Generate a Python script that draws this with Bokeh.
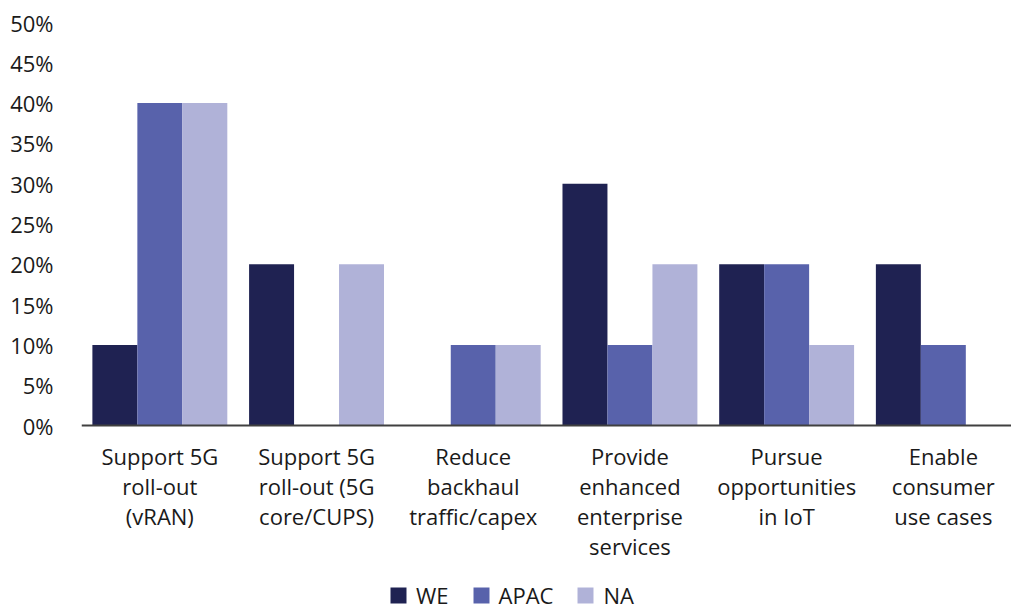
from bokeh.plotting import figure
from bokeh.models import ColumnDataSource, Range1d, FixedTicker, Legend, LegendItem
from bokeh.embed import file_html
from bokeh.resources import INLINE

categories = [
    "Support 5G\nroll-out\n(vRAN)",
    "Support 5G\nroll-out (5G\ncore/CUPS)",
    "Reduce\nbackhaul\ntraffic/capex",
    "Provide\nenhanced\nenterprise\nservices",
    "Pursue\nopportunities\nin IoT",
    "Enable\nconsumer\nuse cases",
]
series_names = ["WE", "APAC", "NA"]
we = [10, 20, 0, 30, 20, 20]
apac = [40, 0, 10, 10, 20, 10]
na = [40, 20, 10, 20, 10, 0]
y_ticks = [0, 5, 10, 15, 20, 25, 30, 35, 40, 45, 50]

colors = ["#1f2252", "#5862ab", "#b0b2d8"]
FONT = "Open Sans"
FS = "22px"

# frame spans from 22px to the bottom of the canvas; 0% sits 185px above the bottom
y_bottom = -185 * 50 / 403

p = figure(width=1011, height=610, output_backend="svg", toolbar_location=None,
           x_range=Range1d(0, 5.935), y_range=Range1d(y_bottom, 50),
           min_border_left=81, min_border_right=0, min_border_top=22, min_border_bottom=0)
p.outline_line_color = None
p.xgrid.grid_line_color = None
p.ygrid.grid_line_color = None

xs = [i + 0.5 for i in range(len(categories))]
bw = 0.287
renderers = []
for k, (name, vals) in enumerate(zip(series_names, [we, apac, na])):
    src = ColumnDataSource(dict(x=[x + (k - 1) * bw for x in xs], top=vals))
    r = p.vbar(x="x", top="top", width=bw, source=src, fill_color=colors[k], line_color=None)
    renderers.append(r)

# x axis, drawn at 0%
p.xaxis.fixed_location = 0
p.xaxis.ticker = FixedTicker(ticks=xs)
p.xaxis.major_label_overrides = {x: c for x, c in zip(xs, categories)}
p.xaxis.major_tick_line_color = None
p.xaxis.minor_tick_line_color = None
p.xaxis.major_tick_out = 0
p.xaxis.major_tick_in = 0
p.xaxis.axis_line_color = "#404040"
p.xaxis.axis_line_width = 2
p.xaxis.major_label_text_font = FONT
p.xaxis.major_label_text_font_size = FS
p.xaxis.major_label_text_color = "#1a1a1a"
p.xaxis.major_label_text_line_height = 1.0
p.xaxis.major_label_standoff = 15

# y axis
p.yaxis.ticker = FixedTicker(ticks=y_ticks)
p.yaxis.major_label_overrides = {t: f"{t}%" for t in y_ticks}
p.yaxis.major_tick_line_color = None
p.yaxis.minor_tick_line_color = None
p.yaxis.major_tick_out = 0
p.yaxis.major_tick_in = 0
p.yaxis.axis_line_color = None
p.yaxis.major_label_text_font = FONT
p.yaxis.major_label_text_font_size = FS
p.yaxis.major_label_text_color = "#1a1a1a"
p.yaxis.major_label_standoff = 28

legend = Legend(items=[LegendItem(label=n, renderers=[r]) for n, r in zip(series_names, renderers)],
                orientation="horizontal", location=(307, 0),
                label_text_font=FONT, label_text_font_size=FS, label_text_color="#1a1a1a",
                glyph_width=20, glyph_height=20, spacing=22, label_standoff=8,
                border_line_color=None, background_fill_alpha=0, padding=0, margin=0)
p.add_layout(legend)

open("out.html", "w").write(file_html(p, INLINE))
